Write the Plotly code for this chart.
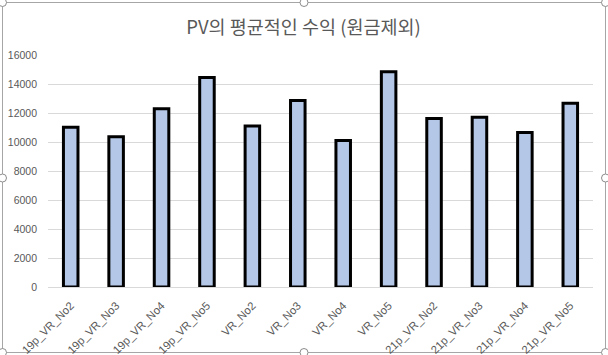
import plotly.graph_objects as go

categories = ["19p_VR_No2", "19p_VR_No3", "19p_VR_No4", "19p_VR_No5",
              "VR_No2", "VR_No3", "VR_No4", "VR_No5",
              "21p_VR_No2", "21p_VR_No3", "21p_VR_No4", "21p_VR_No5"]
values = [11020, 10370, 12300, 14450, 11100, 12860, 10110, 14850,
          11620, 11710, 10650, 12670]
y_ticks = [0, 2000, 4000, 6000, 8000, 10000, 12000, 14000, 16000]
y_tick_labels = [str(v) for v in y_ticks]
title_text = "PV의 평균적인 수익 (원금제외)"

W, H = 608, 355
L, R, T, B = 48, 15, 55, 68
pw, ph = W - L - R, H - T - B

def px(x):
    return (x - L) / pw

def py(y):
    return (H - B - y) / ph

fig = go.Figure(go.Bar(
    x=categories, y=values,
    marker=dict(color="#b4c7e7", line=dict(color="#000000", width=3)),
))

shapes = [dict(type="rect", xref="paper", yref="paper",
               x0=px(2.5), x1=px(605.5), y0=py(352.5), y1=py(2.5),
               line=dict(color="#a6a6a6", width=1), fillcolor="rgba(0,0,0,0)", layer="below")]
handles = [(2.5, 2.5), (304, 2.5), (605.5, 2.5), (2.5, 178), (605.5, 178),
           (2.5, 352.5), (304, 352.5), (605.5, 352.5)]
r = 4
for hx, hy in handles:
    shapes.append(dict(type="circle", xref="paper", yref="paper",
                       x0=px(hx - r), x1=px(hx + r), y0=py(hy + r), y1=py(hy - r),
                       line=dict(color="#8c8c8c", width=1), fillcolor="white", layer="above"))

fig.update_layout(
    width=W, height=H,
    margin=dict(l=L, r=R, t=T, b=B, autoexpand=False),
    paper_bgcolor="white", plot_bgcolor="white",
    bargap=0.68,
    showlegend=False,
    title=dict(text=title_text, x=303.5 / W, xref="container", xanchor="center",
               y=1 - 28 / H, yref="container", yanchor="middle",
               font=dict(family="Noto Sans CJK KR", size=18.5, color="#595959")),
    font=dict(family="Liberation Sans", size=10.5, color="#595959"),
    xaxis=dict(tickangle=-45, showgrid=False, showline=False, ticks="",
               ticklabelstandoff=9, automargin=False,
               tickfont=dict(size=11.3, color="#595959")),
    yaxis=dict(range=[0, 16000], tickvals=y_ticks, ticktext=y_tick_labels,
               showgrid=True, automargin=False,
               gridcolor="#d9d9d9", gridwidth=1, zeroline=True,
               zerolinecolor="#d9d9d9", zerolinewidth=1, showline=False,
               ticks="", ticklabelstandoff=10,
               tickfont=dict(size=10.5, color="#595959")),
    shapes=shapes,
)

fig.write_html("out.html")
